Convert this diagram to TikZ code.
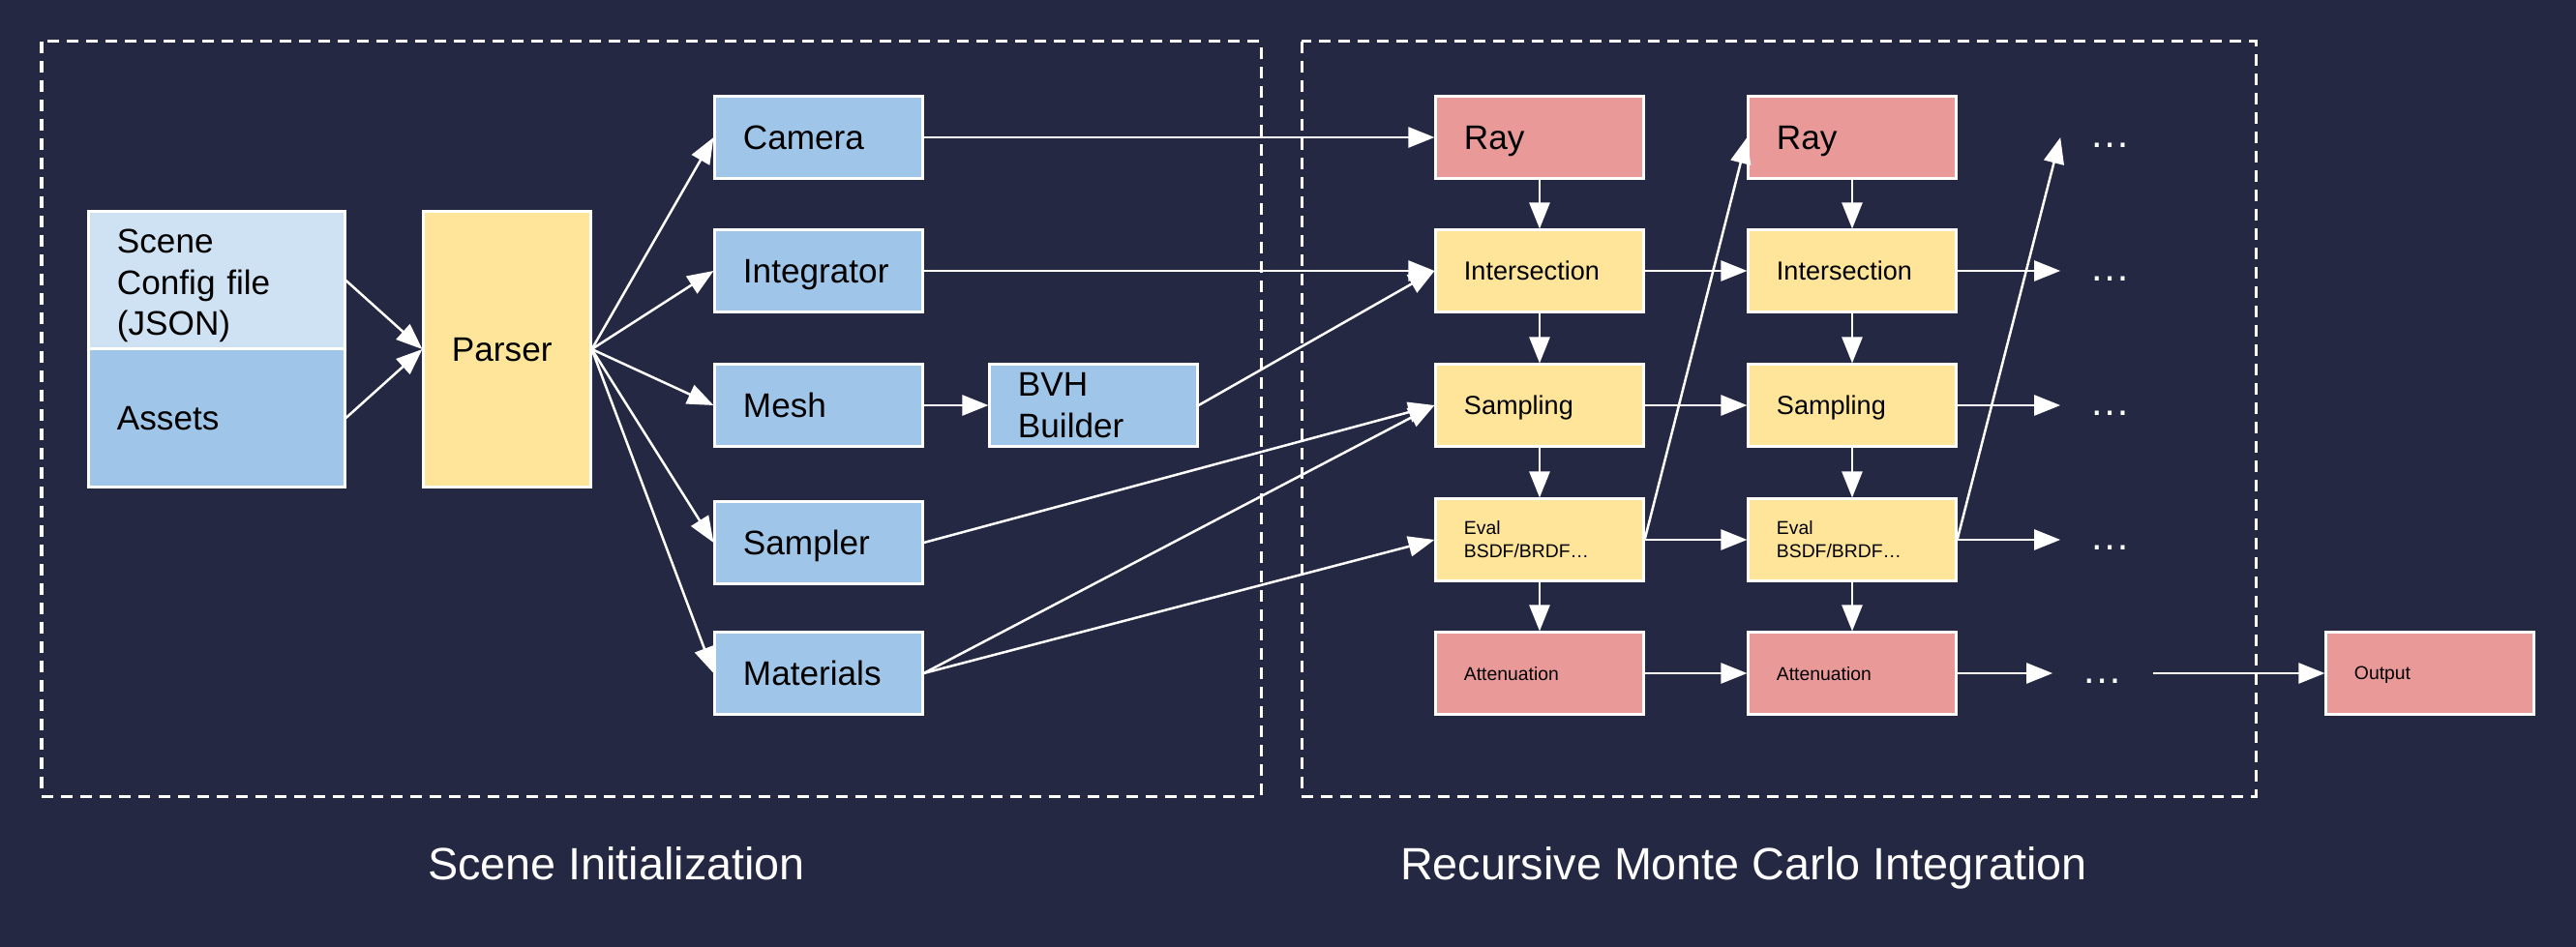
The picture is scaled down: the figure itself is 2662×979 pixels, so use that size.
\documentclass[tikz,border=0pt]{standalone}
\usepackage{fontspec}
\setmainfont{Liberation Sans}
\usepackage{tikz}
\usetikzlibrary{arrows.meta}
\definecolor{mbg}{RGB}{36, 40, 66}
\definecolor{mlblue}{RGB}{207, 226, 243}
\definecolor{mblue}{RGB}{159, 197, 232}
\definecolor{myellow}{RGB}{255, 229, 153}
\definecolor{mred}{RGB}{234, 153, 153}
\tikzset{box/.style = {draw = white, line width = 0.03cm, text = black, align = left, inner xsep = 0.29cm, inner ysep = 0, text width = 1.56cm, minimum height = 0.84cm, font = \fontsize{10}{12}\selectfont}}
\tikzset{flat/.style = {box, text depth = 0pt}}
\tikzset{midtext/.style = {font = \fontsize{7.7}{9.2}\selectfont}}
\tikzset{smalltext/.style = {font = \fontsize{5.5}{6.8}\selectfont}}
\tikzset{more/.style = {text = white, inner xsep = 0.3cm, font = \fontsize{12}{14.4}\selectfont}}
\tikzset{arr/.style = {white, line width = 0.025cm, -{Triangle[length = 0.27cm, width = 0.21cm]}}}
\tikzset{stage/.style = {white, line width = 0.03cm, dash pattern = on 0.12cm off 0.08cm}}
\tikzset{heading/.style = {text = white, anchor = base, font = \fontsize{13.3}{16}\selectfont}}

\begin{document}
\begin{tikzpicture}[x = 0.01cm, y = -0.01cm]
       \fill [mbg] (0, 0) rectangle (2662, 979);
       \draw [stage] (43, 43) rectangle (1303, 823);
       \draw [stage] (1345, 43) rectangle (2331, 823);

       % scene initialization
       \node [box, fill = mlblue, text width = 2.06cm, minimum height = 1.42cm, text height = 0.25cm, text depth = 0.81cm] (config) at (224, 290) {Scene\\Config file\\(JSON)};
       \node [flat, fill = mblue, text width = 2.06cm, minimum height = 1.42cm] (assets) at (224, 432) {Assets};
       \node [flat, fill = myellow, text width = 1.14cm, minimum height = 2.84cm] (parser) at (524, 361) {Parser};
       \node [flat, fill = mblue] (camera) at (846, 142) {Camera};
       \node [flat, fill = mblue] (integrator) at (846, 280) {Integrator};
       \node [flat, fill = mblue] (mesh) at (846, 419) {Mesh};
       \node [box, fill = mblue] (bvh) at (1130, 419) {BVH\\Builder};
       \node [flat, fill = mblue] (sampler) at (846, 561) {Sampler};
       \node [flat, fill = mblue] (materials) at (846, 696) {Materials};

       \draw [arr] (config.east) -- (parser.west);
       \draw [arr] (assets.east) -- (parser.west);
       \draw [arr] (parser.east) -- (camera.west);
       \draw [arr] (parser.east) -- (integrator.west);
       \draw [arr] (parser.east) -- (mesh.west);
       \draw [arr] (parser.east) -- (sampler.west);
       \draw [arr] (parser.east) -- (materials.west);
       \draw [arr] (mesh) -- (bvh);

       % recursive monte carlo integration
       \node [flat, fill = mred] (ray1) at (1591, 142) {Ray};
       \node [flat, fill = myellow, midtext] (int1) at (1591, 280) {Intersection};
       \node [flat, fill = myellow, midtext] (samp1) at (1591, 419) {Sampling};
       \node [box, fill = myellow, smalltext] (eval1) at (1591, 558) {Eval\\BSDF/BRDF…};
       \node [flat, fill = mred, smalltext] (att1) at (1591, 696) {Attenuation};

       \node [flat, fill = mred] (ray2) at (1914, 142) {Ray};
       \node [flat, fill = myellow, midtext] (int2) at (1914, 280) {Intersection};
       \node [flat, fill = myellow, midtext] (samp2) at (1914, 419) {Sampling};
       \node [box, fill = myellow, smalltext] (eval2) at (1914, 558) {Eval\\BSDF/BRDF…};
       \node [flat, fill = mred, smalltext] (att2) at (1914, 696) {Attenuation};

       \node [more] (dots1) at (2181, 142) {\strut …};
       \node [more] (dots2) at (2181, 280) {\strut …};
       \node [more] (dots3) at (2181, 419) {\strut …};
       \node [more] (dots4) at (2181, 558) {\strut …};
       \node [more] (dots5) at (2173, 696) {\strut …};
       \node [flat, fill = mred, smalltext] (output) at (2511, 696) {Output};

       \draw [arr] (camera) -- (ray1);
       \draw [arr] (integrator) -- (int1);
       \draw [arr] (bvh.east) -- (int1.west);
       \draw [arr] (sampler.east) -- (samp1.west);
       \draw [arr] (materials.east) -- (samp1.west);
       \draw [arr] (materials.east) -- (eval1.west);

       \draw [arr] (ray1) -- (int1);
       \draw [arr] (int1) -- (samp1);
       \draw [arr] (samp1) -- (eval1);
       \draw [arr] (eval1) -- (att1);
       \draw [arr] (ray2) -- (int2);
       \draw [arr] (int2) -- (samp2);
       \draw [arr] (samp2) -- (eval2);
       \draw [arr] (eval2) -- (att2);

       \draw [arr] (int1) -- (int2);
       \draw [arr] (samp1) -- (samp2);
       \draw [arr] (eval1) -- (eval2);
       \draw [arr] (att1) -- (att2);
       \draw [arr] (eval1.east) -- (ray2.west);

       \draw [arr] (int2) -- (dots2);
       \draw [arr] (samp2) -- (dots3);
       \draw [arr] (eval2) -- (dots4);
       \draw [arr] (att2) -- (dots5);
       \draw [arr] (eval2.east) -- (dots1.west);
       \draw [arr] (dots5) -- (output);

       \node [heading] (title1) at (637, 909) {Scene Initialization};
       \node [heading] (title2) at (1802, 909) {Recursive Monte Carlo Integration};
\end{tikzpicture}
\end{document}
